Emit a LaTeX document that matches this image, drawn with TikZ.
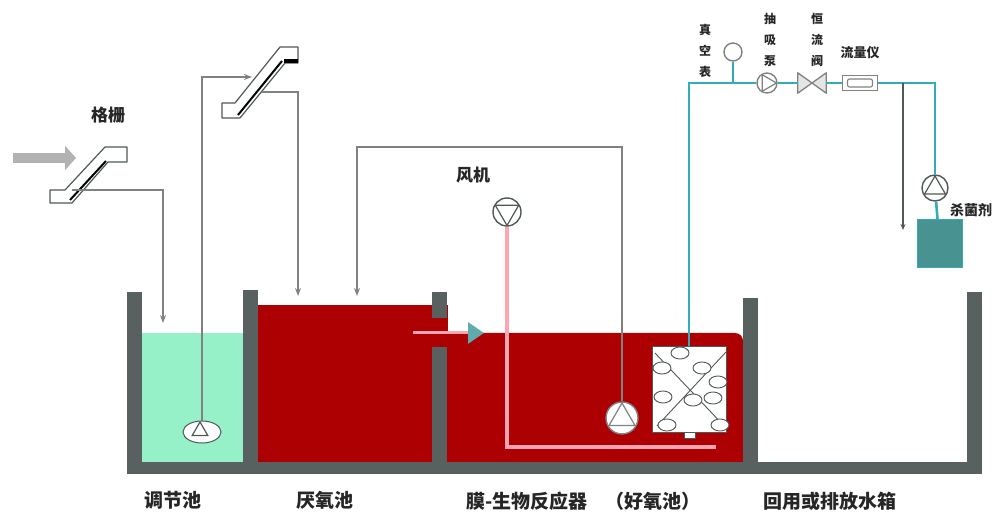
\documentclass[tikz,border=0pt]{standalone}
\usepackage{fontspec}
\newfontfamily\cjk{Noto Sans CJK SC}
\usetikzlibrary{shapes.geometric,arrows.meta}
\definecolor{wallgray}{RGB}{88,96,96}
\definecolor{tankred}{RGB}{172,0,2}
\definecolor{eqgreen}{RGB}{150,240,200}
\definecolor{airpink}{RGB}{255,165,178}
\definecolor{linegray}{RGB}{128,130,130}
\definecolor{darkline}{RGB}{80,88,88}
\definecolor{pipeteal}{RGB}{50,172,184}
\definecolor{arrowteal}{RGB}{95,170,172}
\definecolor{dosetank}{RGB}{72,146,146}
\definecolor{feedgray}{RGB}{178,178,178}
\tikzset{
  pipe/.style={draw=linegray, line width=1.6pt},
  flowarrow/.style={pipe, -{Stealth[length=8pt,width=6pt]}},
  tealpipe/.style={draw=pipeteal, line width=2.6pt},
  airline/.style={draw=airpink, line width=3.4pt},
  pumpcirc/.style={circle, draw=#1, line width=1.4pt, fill=white, inner sep=0pt},
  pumptri/.style={regular polygon, regular polygon sides=3, draw=#1, line width=1.2pt, inner sep=0pt, outer sep=0pt},
  screenbox/.style={draw=darkline, line width=1.2pt, fill=white, line join=round},
  modring/.style={draw=darkline, line width=0.9pt},
  lbl/.style={font=\cjk\bfseries\fontsize{19}{19}\selectfont, inner sep=0pt, text=black!85},
  midlbl/.style={font=\cjk\bfseries\fontsize{17}{17}\selectfont, inner sep=0pt, text=black!85},
  smalllbl/.style={font=\cjk\bfseries\fontsize{12}{21}\selectfont, inner sep=0pt, align=center, text=black!85},
}
\begin{document}
\begin{tikzpicture}[x=1pt,y=-1pt]
\useasboundingbox (0,0) rectangle (997,513);

% --- tank contents ---
\fill[eqgreen] (142,333) rectangle (243,462);
\fill[tankred] (258,305) rectangle (448,462);
\fill[tankred, rounded corners=8pt] (448,333) rectangle (743,462);
\fill[tankred] (448,341) rectangle (743,462);
\fill[tankred] (448,333) rectangle (700,345);

% --- tank walls ---
\fill[wallgray] (127,292) rectangle (142,474);
\fill[wallgray] (127,462) rectangle (982,474);
\fill[wallgray] (243,290) rectangle (258,462);
\fill[wallgray] (432,292) rectangle (447,318);
\fill[wallgray] (432,347) rectangle (447,462);
\fill[wallgray] (743,298) rectangle (758,462);
\fill[wallgray] (967,292) rectangle (982,474);

% --- overflow from anoxic to aerobic tank ---
\coordinate (ovstart) at (413,333);
\coordinate (ovend) at (484,333);
\draw[airline, line width=3pt, -{Triangle[length=16pt,width=21pt,color=arrowteal,fill=arrowteal]}] (ovstart) -- (ovend);

% --- screens ---
\draw[screenbox] (50,190) -- (65,190) -- (105,147) -- (127,147) -- (127,162) -- (108,162) -- (72,203) -- (50,203) -- cycle;
\draw[black, line width=2pt] (70,200) -- (106,161);
\draw[screenbox] (222,103) -- (235,103) -- (280,47) -- (298,47) -- (298,63) -- (285,63) -- (240,118) -- (222,118) -- cycle;
\draw[black, line width=2pt] (238,115) -- (282,61);
\fill[black] (284,59) rectangle (298,63);

% --- influent and screen outlets ---
\coordinate (infl) at (13,158);
\coordinate (s1in) at (76,158);
\draw[feedgray, line width=10pt, -{Triangle[length=11pt,width=24pt]}] (infl) -- (s1in);
\coordinate (s1out) at (72,190);
\coordinate (eqin) at (163,323);
\draw[flowarrow] (s1out) -| (eqin);

% lift pump in equalisation tank
\node[ellipse, draw=darkline, line width=1pt, fill=white, minimum width=38pt, minimum height=22pt, inner sep=0pt] (lpump) at (202,432) {};
\node[pumptri=darkline, minimum size=18pt] at (200,431) {};
\coordinate (s2in) at (252,77);
\draw[flowarrow] (lpump.north) |- (s2in);
\coordinate (s2out) at (262,92);
\coordinate (anain) at (298,296);
\draw[flowarrow] (s2out) -| (anain);

% --- recirculation pump in aerobic tank ---
\node[pumpcirc=linegray, minimum size=32pt] (rpump) at (622,418) {};
\node[pumptri=linegray, minimum size=30pt] at (rpump) {};
\coordinate (rtop) at (622,147);
\coordinate (recin) at (357,296);
\draw[flowarrow] (rpump.north) -- (rtop) -| (recin);

% --- blower and aeration line ---
\node[pumpcirc=darkline, minimum size=28pt] (fan) at (507,212) {};
\node[pumptri=darkline, minimum size=27pt, shape border rotate=180] at (fan) {};
\coordinate (airend) at (716,447);
\draw[airline] (fan.south) |- (airend);
\node[midlbl] (fanlbl) at (473,175) {风机};

% --- membrane module ---
\node[draw=darkline, line width=1pt, fill=white, minimum width=74pt, minimum height=85pt, inner sep=0pt] (mod) at (689,389.5) {};
\fill[white, draw=darkline, line width=0.8pt] (684,432) rectangle (695,438);
\draw[modring] (655,353) -- (726,428);
\draw[modring] (726,352) -- (657,426);
\foreach \cx/\cy in {680/353, 662/368, 702/368, 718/382, 663/397, 693/400, 713/398, 667/425, 720/425}
  \draw[modring, fill=white] (\cx,\cy) ellipse [x radius=9pt, y radius=6pt];

% --- effluent line ---
\node[pumpcirc=linegray, minimum size=20pt] (vpump) at (767,83) {};
\node[pumptri=linegray, minimum size=19pt, shape border rotate=-90] at (vpump) {};
\node[pumpcirc=linegray, minimum size=18pt] (gauge) at (733,52) {};
\coordinate (gstem) at (733,83);
\node[minimum width=28pt, minimum height=20pt, inner sep=0pt] (valve) at (812,83) {};
\draw[draw=linegray, fill=black!10, line width=1.3pt, line join=round] (valve.north west) -- (valve.south east) -- (valve.north east) -- (valve.south west) -- cycle;
\node[draw=linegray, line width=1.3pt, fill=white, minimum width=35pt, minimum height=15pt, inner sep=0pt] (fmeter) at (860,83) {};
\node[draw=linegray, line width=1.1pt, rounded corners=2pt, minimum width=25pt, minimum height=8pt, inner sep=0pt] at (fmeter) {};
\coordinate (tcorner) at (935,83);
\coordinate (tee) at (903,83);
\coordinate (drain) at (903,230);
\node[pumpcirc=darkline, minimum size=26pt] (dpump) at (935,188) {};
\node[pumptri=darkline, minimum size=24pt] at (dpump) {};
\node[draw=pipeteal, fill=dosetank, line width=1pt, minimum width=45pt, minimum height=48pt, inner sep=0pt] (dtank) at (939.5,244) {};

\draw[tealpipe] (mod.north) |- (vpump);
\draw[tealpipe] (gauge.south) -- (gstem);
\draw[tealpipe] (vpump) -- (valve);
\draw[tealpipe] (valve) -- (fmeter);
\draw[tealpipe] (fmeter) -- (tcorner) -- (dpump);
\draw[tealpipe] (dpump) -- (dtank);
\draw[draw=darkline, line width=1.3pt, -{Stealth[length=6pt,width=5pt]}] (tee) -- (drain);

% --- labels ---
\node[midlbl] (screenlbl) at (108,115) {格栅};
\node[smalllbl] (gaugelbl) at (705,51) {真\\空\\表};
\node[smalllbl] (vpumplbl) at (770,40) {抽\\吸\\泵};
\node[smalllbl] (valvelbl) at (817,40) {恒\\流\\阀};
\node[smalllbl, font=\cjk\bfseries\fontsize{13}{13}\selectfont] (fmeterlbl) at (860,53) {流量仪};
\node[smalllbl, font=\cjk\bfseries\fontsize{14}{14}\selectfont] (dosinglbl) at (971,210) {杀菌剂};

\node[lbl] (eqlbl) at (173,500) {调节池};
\node[lbl] (anlbl) at (325,500) {厌氧池};
\node[lbl] (mbrlbl) at (527,501) {膜-生物反应器};
\node[lbl] (aerlbl) at (653,501) {（好氧池）};
\node[lbl] (tanklbl) at (830,501) {回用或排放水箱};
\end{tikzpicture}
\end{document}
